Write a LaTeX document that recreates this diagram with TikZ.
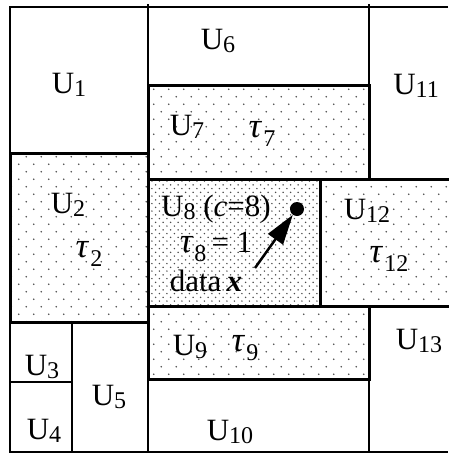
\documentclass[tikz,border=0pt]{standalone}
\usepackage{fontspec}
\setmainfont{Liberation Serif}
\usetikzlibrary{patterns,arrows.meta}
\pgfdeclarepatternformonly{stip}{\pgfqpoint{-1pt}{-1pt}}{\pgfqpoint{16pt}{16pt}}{\pgfqpoint{15pt}{15pt}}{%
  \pgfpathcircle{\pgfqpoint{3.75pt}{3.75pt}}{0.85pt}%
  \pgfpathcircle{\pgfqpoint{11.25pt}{11.25pt}}{0.85pt}%
  \pgfusepath{fill}}
\pgfdeclarepatternformonly{stipdense}{\pgfqpoint{-1pt}{-1pt}}{\pgfqpoint{9pt}{9pt}}{\pgfqpoint{7.5pt}{7.5pt}}{%
  \pgfpathcircle{\pgfqpoint{1.9pt}{1.9pt}}{0.8pt}%
  \pgfpathcircle{\pgfqpoint{5.6pt}{5.6pt}}{0.8pt}%
  \pgfusepath{fill}}
\definecolor{dotc}{gray}{0.3}
\newcommand\Ulab[1]{U\raisebox{-3pt}{\fontsize{24}{24}\selectfont #1}}
\newcommand\Tlab[1]{{\fontsize{35}{35}\selectfont\textit{τ}}\kern1pt\raisebox{-9pt}{\fontsize{24}{24}\selectfont #1}}
\begin{document}
\begin{tikzpicture}[x=1pt,y=-1pt,
  thin line/.style={line width=1.6pt},
  thick box/.style={line width=3pt},
  lab/.style={inner sep=0pt, anchor=center, font=\fontsize{31}{32}\selectfont},
  dots/.style={pattern=stip, pattern color=dotc},
  densedots/.style={pattern=stipdense, pattern color=dotc}]
\useasboundingbox (0,0) rectangle (448,453);
% stippled regions
\fill[dots] (10,153) rectangle (148,322);
\fill[dots] (148,85) rectangle (369,179);
\fill[densedots] (148,179) rectangle (320,306);
\fill[dots] (320,179) rectangle (448,306);
\fill[dots] (148,306) rectangle (369,379);
% thin lines
\draw[thin line] (448,7) -- (10,7) -- (10,452) -- (448,452);
\draw[thin line] (148,4) -- (148,452);
\draw[thin line] (369,4) -- (369,85);
\draw[thin line] (10,382) -- (72,382);
\draw[thin line] (72,322) -- (72,452);
\draw[thin line] (369,379) -- (369,452);
% thick boxes
\draw[thick box] (10,153) rectangle (148,322);
\draw[thick box] (148,85) rectangle (369,179);
\draw[thick box] (148,179) rectangle (320,306);
\draw[thick box] (449,179) -- (320,179) -- (320,306) -- (449,306);
\draw[thick box] (148,306) rectangle (369,379);
% labels
\node[lab] (u1) at (69,85) {\Ulab{1}};
\node[lab] (u6) at (218,41) {\Ulab{6}};
\node[lab] (u11) at (416,86) {\Ulab{11}};
\node[lab] (u7) at (187,127) {\Ulab{7}};
\node[lab] (t7) at (262,134) {\Tlab{7}};
\node[lab] (u2) at (68,205) {\Ulab{2}};
\node[lab] (t2) at (89,254) {\Tlab{2}};
\node[lab] (u8) at (216,209) {\Ulab{8} (\textit{c}=8)};
\node[lab] (t8) at (216,247) {\Tlab{8}\,= 1};
\node[lab] (datax) at (206,281) {data\,\textbf{\textit{x}}};
\node[lab] (u12) at (367,211) {\Ulab{12}};
\node[lab] (t12) at (389,259) {\Tlab{12}};
\node[lab] (u9) at (190,347) {\Ulab{9}};
\node[lab] (t9) at (245,348) {\Tlab{9}};
\node[lab] (u13) at (419,341) {\Ulab{13}};
\node[lab] (u3) at (42,367) {\Ulab{3}};
\node[lab] (u4) at (44,431) {\Ulab{4}};
\node[lab] (u5) at (109,397) {\Ulab{5}};
\node[lab] (u10) at (230,432) {\Ulab{10}};
% data point and arrow
\node[circle, fill=black, inner sep=0pt, minimum size=14pt] (pt) at (297,209) {};
\coordinate (tail) at (255,268);
\draw[line width=2.5pt, -{Triangle[length=30pt,width=18pt]}] (tail) -- (pt);
\end{tikzpicture}
\end{document}
